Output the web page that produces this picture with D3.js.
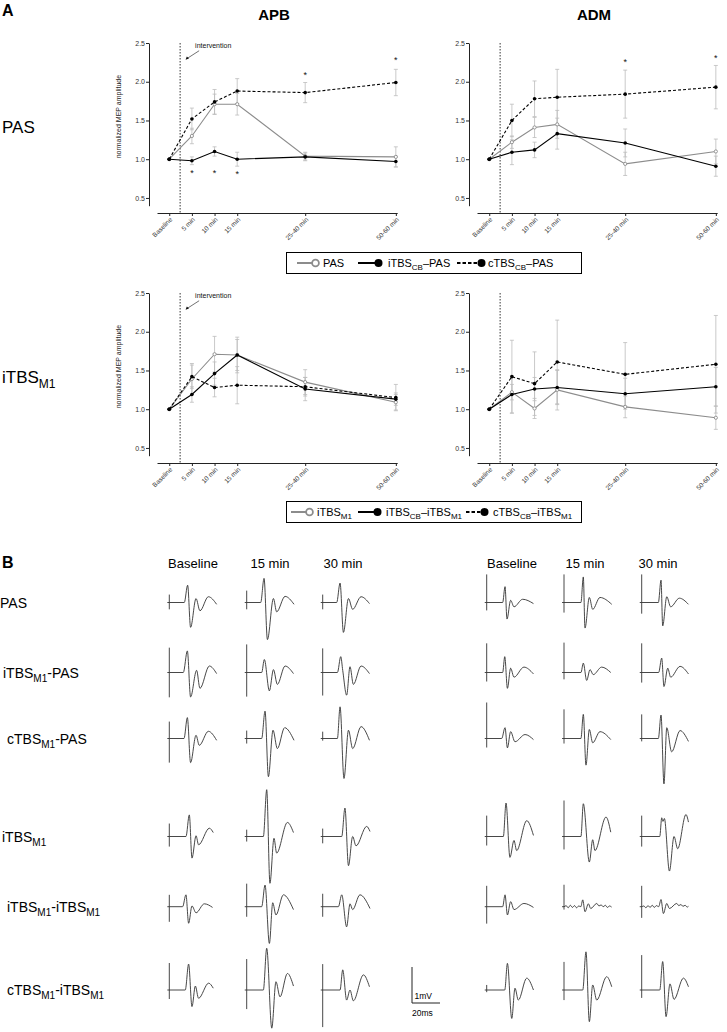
<!DOCTYPE html>
<html>
<head>
<meta charset="utf-8">
<script src="https://cdn.jsdelivr.net/npm/d3@7"></script>
<style>
  body { margin: 0; background: #fff; }
  svg { display: block; font-family: "Liberation Sans", Arial, sans-serif; }
</style>
</head>
<body>
<svg id="fig" width="727" height="1032"></svg>
<script>
// ---- Panel A data ----
var times = [0, 5, 10, 15, 30, 50];
var timeLabels = ["Baseline", "5 min", "10 min", "15 min", "25-40 min", "50-60 min"];
var yTicks = [0.5, 1.0, 1.5, 2.0, 2.5];

// APB, PAS row
var apbPasPas = [1.00, 1.30, 1.71, 1.71, 1.04, 1.03], apbPasPasErr = [0, 0.10, 0.13, 0.14, 0.05, 0.13];
var apbPasItbs = [1.00, 0.98, 1.10, 1.00, 1.03, 0.97], apbPasItbsErr = [0, 0.05, 0.06, 0.09, 0.05, 0.07];
var apbPasCtbs = [1.00, 1.52, 1.74, 1.88, 1.86, 1.99], apbPasCtbsErr = [0, 0.14, 0.16, 0.16, 0.13, 0.17];
var apbPasStars = [[30, 2.10], [50, 2.29], [5, 0.83], [10, 0.83], [15, 0.82]];

// ADM, PAS row
var admPasPas = [1.00, 1.22, 1.41, 1.45, 0.94, 1.10], admPasPasErr = [0, 0.08, 0.13, 0.18, 0.15, 0.16];
var admPasItbs = [1.00, 1.09, 1.12, 1.33, 1.21, 0.91], admPasItbsErr = [0, 0.16, 0.10, 0.20, 0.18, 0.13];
var admPasCtbs = [1.00, 1.50, 1.78, 1.80, 1.84, 1.93], admPasCtbsErr = [0, 0.21, 0.23, 0.36, 0.31, 0.28];
var admPasStars = [[30, 2.27], [50, 2.32]];

// APB, iTBS row
var apbItbsItbs = [1.00, 1.39, 1.71, 1.70, 1.35, 1.09], apbItbsItbsErr = [0, 0.20, 0.23, 0.23, 0.16, 0.10];
var apbItbsCb = [1.00, 1.19, 1.46, 1.70, 1.26, 1.13], apbItbsCbErr = [0, 0.10, 0.15, 0.20, 0.15, 0.08];
var apbItbsCtbs = [1.00, 1.42, 1.28, 1.31, 1.29, 1.15], apbItbsCtbsErr = [0, 0.15, 0.12, 0.24, 0.12, 0.17];

// ADM, iTBS row
var admItbsItbs = [1.00, 1.22, 1.01, 1.25, 1.03, 0.89], admItbsItbsErr = [0, 0.10, 0.13, 0.26, 0.14, 0.15];
var admItbsCb = [1.00, 1.19, 1.26, 1.28, 1.20, 1.29], admItbsCbErr = [0, 0.24, 0.15, 0.22, 0.20, 0.25];
var admItbsCtbs = [1.00, 1.42, 1.33, 1.61, 1.45, 1.58], admItbsCtbsErr = [0, 0.47, 0.41, 0.54, 0.41, 0.63];

var legendPas = ["PAS", "iTBS{CB}–PAS", "cTBS{CB}–PAS"];
var legendItbs = ["iTBS{M1}", "iTBS{CB}–iTBS{M1}", "cTBS{CB}–iTBS{M1}"];

// ---- Panel B data: MEP traces, [ms, mV] after the stimulus; art = artifact [up, down] mV ----
var colLabels = ["Baseline", "15 min", "30 min"];
var rowLabels = ["PAS", "iTBS{M1}-PAS", "cTBS{M1}-PAS", "iTBS{M1}", "iTBS{M1}-iTBS{M1}", "cTBS{M1}-iTBS{M1}"];

var apbPAS = [
  {art: [0.22, 0.19], pts: [[10.7, 0], [13.1, 0.48], [15.2, -0.69], [19.1, 0.11], [21.9, -0.23], [27.9, 0.16], [33.8, -0.05]]},
  {art: [0.33, 0.19], pts: [[10, 0], [12.4, 0.67], [14.8, -1.03], [19.1, 0.11], [21.4, -0.26], [27.4, 0.17], [33.8, -0.05]]},
  {art: [0.22, 0.19], pts: [[10, 0], [12.4, 0.54], [14.8, -0.83], [18.4, 0.11], [21.4, -0.19], [27.4, 0.16], [33.4, -0.03]]}
];
var apbItbsPAS = [
  {art: [0.69, 0.69], pts: [[10, 0], [12.9, 0.6], [15.2, -0.68], [19.5, 0.06], [21.9, -0.44], [28.6, 0.18], [33.8, -0.03]]},
  {art: [0.78, 0.67], pts: [[10.7, 0], [12.6, 0.36], [16.2, -0.51], [19.1, 0.08], [21.9, -0.33], [27.4, 0.18], [33.4, -0.03]]},
  {art: [0.67, 0.64], pts: [[10.5, 0], [12.9, 0.44], [14.3, 0.06], [17.1, -0.63], [19.5, 0.16], [21.9, -0.33], [27.4, 0.18], [33.4, -0.03]]}
];
var apbCtbsPAS = [
  {art: [0.47, 0.67], pts: [[10.5, 0], [12.9, 0.58], [15.2, -0.67], [19.1, 0.09], [21.4, -0.19], [27.9, 0.2], [33.8, -0.05]]},
  {art: [0.22, 0.14], pts: [[10.7, 0], [13.1, 0.76], [15.5, -1.06], [18.8, 0.23], [21.9, -0.28], [27.1, 0.3], [33.8, -0.05]]},
  {art: [0.19, 0.06], pts: [[10.5, 0], [12.4, 0.88], [15.2, -1.11], [18.4, 0.23], [21.4, -0.28], [27.4, 0.33], [33.4, -0.05]]}
];
var apbITBS = [
  {art: [0.36, 0.28], pts: [[11.9, 0], [14.3, 0.6], [16.2, -0.6], [19.1, 0.02], [20.9, -0.23], [28.6, 0.23], [31.4, 0.11]]},
  {art: [0.19, 0.14], pts: [[11.9, 0], [14.3, 1.3], [16.6, -1.3], [19.5, -0.05], [21.4, -0.46], [29.1, 0.39], [33.4, 0.11]]},
  {art: [0.22, 0.19], pts: [[13.6, 0], [15.9, 0.79], [18.4, -0.81], [21.4, 0], [23.8, -0.26], [31.4, 0.28], [33.8, 0.14]]}
];
var apbItbsITBS = [
  {art: [0.33, 0.42], pts: [[9.5, 0], [11.9, 0.33], [13.8, -0.46], [16.2, 0.02], [19.1, -0.17], [25, 0.08], [30.9, -0.02]]},
  {art: [0.64, 0.28], pts: [[10.7, 0], [13.1, 0.6], [16.2, -1.02], [18.6, 0.11], [20.9, -0.23], [26.2, 0.33], [33.4, -0.08]]},
  {art: [0.36, 0.28], pts: [[11.2, 0], [13.6, 0.33], [17.1, -0.56], [19.5, 0.08], [21.4, -0.08], [26.6, 0.33], [33.8, -0.05]]}
];
var apbCtbsITBS = [
  {art: [0.75, 0.25], pts: [[11.4, 0], [13.8, 0.72], [16.2, -0.46], [18.6, 0.11], [20.9, -0.23], [28.1, 0.19], [31.4, 0.05]]},
  {art: [0.86, 0.53], pts: [[11.9, 0], [14.3, 1.16], [17.9, -1.06], [20.9, 0.23], [23.8, -0.19], [29.1, 0.46], [33.4, 0.11]]},
  {art: [0.72, 1.03], pts: [[12.4, 0], [14.3, 0.56], [17.1, -0.28], [19.5, 0], [21.9, -0.3], [29.1, 0.42], [33.4, 0.09]]}
];

var admPAS = [
  {art: [0.78, 0.22], pts: [[11.4, 0], [13.1, 0.44], [14.5, -0.46], [17.1, 0.06], [19.5, -0.12], [25.7, 0.09], [33.4, -0.03]]},
  {art: [0.78, 0.28], pts: [[12.1, 0], [13.8, 0.71], [15, -0.71], [18.1, 0.14], [20.5, -0.19], [25.7, 0.14], [34.1, -0.05]]},
  {art: [0.78, 0.31], pts: [[11.9, 0], [13.8, 0.62], [15, -0.65], [17.9, 0.16], [20.7, -0.12], [26.9, 0.12], [33.4, -0.05]]}
];
var admItbsPAS = [
  {art: [0.81, 0.25], pts: [[11.4, 0], [12.9, 0.44], [14.8, -0.44], [17.1, 0.12], [19.5, -0.13], [26.6, 0.15], [33.4, -0.04]]},
  {art: [0.83, 0.19], pts: [[12.1, 0], [13.8, 0.26], [16.2, -0.22], [18.6, 0.08], [20.9, -0.06], [26.9, 0.15], [33.4, 0]]},
  {art: [0.81, 0.28], pts: [[12.1, 0], [14.3, 0.4], [15.9, -0.39], [18.6, 0.12], [20.7, -0.13], [27.4, 0.17], [33.4, -0.04]]}
];
var admCtbsPAS = [
  {art: [1.0, 0.25], pts: [[10.7, 0], [13.1, 0.3], [14.8, -0.26], [17.1, 0.19], [20.2, -0.09], [27.4, 0.11], [33.4, -0.03]]},
  {art: [0.81, 0.14], pts: [[12.1, 0], [13.8, 0.67], [15.7, -0.74], [18.1, 0.25], [20.5, -0.12], [25.7, 0.19], [33.4, -0.03]]},
  {art: [0.67, 0.08], pts: [[11.9, 0], [13.8, 0.65], [15.9, -1.26], [17.9, 0.3], [21.4, -0.37], [27.4, 0.22], [33.4, -0.08]]}
];
var admITBS = [
  {art: [0.58, 0.25], pts: [[11.9, 0], [13.8, 0.93], [16.6, -0.58], [19.5, -0.11], [21.4, -0.39], [28.6, 0.44], [33.4, 0.03]]},
  {art: [1.0, 0.36], pts: [[12.1, 0], [13.8, 0.91], [18.1, -0.71], [20.5, -0.09], [22.1, -0.39], [30, 0.54], [33.4, 0.12]]},
  {art: [0.58, 0.28], pts: [[12.9, 0], [14.3, 0.52], [15.2, 0.42], [16.2, 0.5], [19.8, -0.96], [23.1, 0], [25.7, -0.34], [31.6, 0.61], [33.4, 0.4]]}
];
var admItbsITBS = [
  {art: [0.58, 0.47], pts: [[11.4, 0], [13.1, 0.33], [14.8, -0.23], [17.1, 0.14], [19.5, -0.08], [26.6, 0.09], [33.4, -0.02]]},
  {art: [0.61, 0.08], pts: [[1.5, 0.03], [3, -0.03], [4.5, 0.04], [6, -0.02], [7.5, 0.03], [9, -0.03], [10.5, 0.02], [12, 0], [13.4, 0.19], [15, -0.14], [17.4, 0.08], [19.1, -0.05], [23.4, 0.09], [25, 0.02], [26.5, 0.05], [28, 0], [29.5, 0.04], [31, -0.02], [32.5, 0.02], [34, -0.01]]},
  {art: [0.58, 0.31], pts: [[1.5, 0.02], [3, -0.03], [4.5, 0.03], [6, -0.02], [7.5, 0.04], [9, -0.02], [10.5, 0.03], [12.1, 0], [13.8, 0.2], [15.5, -0.19], [17.9, 0.09], [19.8, -0.05], [25, 0.09], [26.5, 0.03], [28, 0.06], [29.5, 0.01], [31, 0.04], [32.5, -0.01], [33.4, 0.01]]}
];
var admCtbsITBS = [
  {art: [0.14, 0.06], pts: [[12.9, 0], [14.8, 0.74], [17.9, -0.79], [20.2, 0.05], [22.6, -0.28], [28.6, 0.33], [33.4, 0]]},
  {art: [0.78, 0.28], pts: [[13.4, 0], [15.7, 1.06], [18.1, -0.88], [20.5, 0.14], [23.4, -0.28], [30.5, 0.37], [34.1, 0.09]]},
  {art: [0.97, 0.22], pts: [[12.9, 0], [15, 0.79], [17.4, -0.74], [20.2, 0.17], [23.1, -0.26], [29.8, 0.33], [33.4, 0.09]]}
];

var svg = d3.select("#fig");

// text with {subscript} parts
function rich(sel, str, size, subSize) {
  var shift = 0;
  str.split(/(\{[^}]*\})/).filter(function(p) { return p.length; }).forEach(function(p) {
    if (p[0] === "{") {
      sel.append("tspan").text(p.slice(1, -1)).attr("font-size", subSize).attr("dy", size * 0.3 - shift);
      shift = size * 0.3;
    } else {
      sel.append("tspan").text(p).attr("dy", -shift);
      shift = 0;
    }
  });
}

var styles = [
  {color: "#8c8c8c", dash: null, open: true},
  {color: "#000", dash: null, open: false},
  {color: "#000", dash: "3,2", open: false}
];

function drawPanel(dx, dy, series, stars, opts) {
  var g = svg.append("g");
  var x = d3.scaleLinear().domain([-2.7, 50.3]).range([157 + dx, 397.2 + dx]),
      y = d3.scaleLinear().domain([0.4, 2.5]).range([205.7 + dy, 43 + dy]);

  var ya = g.append("g")
    .attr("transform", "translate(" + (149 + dx) + ",0)")
    .call(d3.axisLeft(y).tickValues(yTicks).tickFormat(d3.format(".1f")).tickSize(3).tickSizeOuter(0));
  ya.selectAll("text").attr("font-size", 7).attr("fill", "#333").attr("x", -4);

  var xa = g.append("g")
    .attr("transform", "translate(0," + (213 + dy) + ")")
    .call(d3.axisBottom(x).tickValues(times).tickFormat(function(d, i) { return timeLabels[i]; }).tickSize(3).tickSizeOuter(0));
  xa.selectAll("text")
    .attr("font-size", 6.5).attr("fill", "#333")
    .attr("x", 0).attr("y", 0).attr("dy", 0)
    .attr("text-anchor", "end")
    .attr("transform", "translate(3,7) rotate(-45)");
  g.selectAll(".domain, .tick line").attr("stroke", "#222").attr("stroke-width", 1);

  if (opts.yLabel) {
    g.append("text")
      .attr("transform", "translate(" + (121 + dx) + "," + y(1.55) + ") rotate(-90)")
      .attr("text-anchor", "middle").attr("font-size", 7).attr("fill", "#222")
      .text("normalized MEP amplitude");
  }

  // intervention marker
  g.append("line")
    .attr("x1", x(2.4)).attr("x2", x(2.4)).attr("y1", y(2.5)).attr("y2", 213 + dy)
    .attr("stroke", "#000").attr("stroke-width", 0.8).attr("stroke-dasharray", "1.5,1.5");
  if (opts.intervention) {
    g.append("text").attr("x", x(2.4) + 15).attr("y", y(2.43))
      .attr("font-size", 7).attr("fill", "#111").text("intervention");
    g.append("line")
      .attr("x1", x(2.4) + 19).attr("y1", y(2.4)).attr("x2", x(2.4) + 7).attr("y2", y(2.3))
      .attr("stroke", "#111").attr("stroke-width", 0.6);
    g.append("path")
      .attr("d", "M" + (x(2.4) + 5.5) + "," + (y(2.3) + 1.2) + "l1.2,-3.2l2.2,1.9z")
      .attr("fill", "#111");
  }

  // error bars
  series.forEach(function(s) {
    var eb = g.append("g").attr("stroke", "#bdbdbd").attr("stroke-width", 0.8);
    s.values.forEach(function(v, i) {
      var e = s.err[i];
      if (!e) return;
      var cx = x(times[i]);
      eb.append("line").attr("x1", cx).attr("x2", cx).attr("y1", y(v - e)).attr("y2", y(v + e));
      eb.append("line").attr("x1", cx - 2).attr("x2", cx + 2).attr("y1", y(v - e)).attr("y2", y(v - e));
      eb.append("line").attr("x1", cx - 2).attr("x2", cx + 2).attr("y1", y(v + e)).attr("y2", y(v + e));
    });
  });

  var line = d3.line().x(function(d, i) { return x(times[i]); }).y(function(d) { return y(d); });
  series.forEach(function(s, k) {
    var st = styles[k];
    g.append("path").datum(s.values)
      .attr("d", line).attr("fill", "none")
      .attr("stroke", st.color).attr("stroke-width", 1.1)
      .attr("stroke-dasharray", st.dash);
    g.selectAll(null).data(s.values).enter().append("circle")
      .attr("cx", function(d, i) { return x(times[i]); })
      .attr("cy", function(d) { return y(d); })
      .attr("r", st.open ? 1.6 : 1.8)
      .attr("fill", st.open ? "#fff" : st.color)
      .attr("stroke", st.color).attr("stroke-width", st.open ? 0.9 : 0);
  });

  g.selectAll(null).data(stars).enter().append("text")
    .attr("x", function(d) { return x(d[0]); })
    .attr("y", function(d) { return y(d[1]) + 4; })
    .attr("text-anchor", "middle").attr("font-size", 9).attr("fill", "#111")
    .text("*");
}

function drawLegend(top, labels, items) {
  var g = svg.append("g");
  g.append("rect").attr("x", 286.5).attr("y", top + 0.5).attr("width", 295).attr("height", 21)
    .attr("fill", "#fff").attr("stroke", "#000").attr("stroke-width", 1);
  var cy = top + 11;
  labels.forEach(function(lab, k) {
    var st = styles[k], it = items[k];
    g.append("line").attr("x1", it[0]).attr("x2", it[1]).attr("y1", cy).attr("y2", cy)
      .attr("stroke", st.color).attr("stroke-width", 2).attr("stroke-dasharray", st.dash ? "3.5,2" : null);
    g.append("circle").attr("cx", it[1] + 3.5).attr("cy", cy).attr("r", st.open ? 3.4 : 4)
      .attr("fill", st.open ? "#fff" : st.color)
      .attr("stroke", st.color).attr("stroke-width", st.open ? 1.8 : 0);
    var t = g.append("text").attr("x", it[2]).attr("y", cy + 4).attr("font-size", 11).attr("fill", "#000");
    rich(t, lab, 11, 8);
  });
}

// ---- Panel A ----
svg.append("text").attr("x", 2).attr("y", 16).attr("font-size", 16).attr("font-weight", "bold").text("A");
svg.append("text").attr("x", 274).attr("y", 20).attr("font-size", 15).attr("font-weight", "bold")
  .attr("text-anchor", "middle").text("APB");
svg.append("text").attr("x", 594).attr("y", 20).attr("font-size", 15).attr("font-weight", "bold")
  .attr("text-anchor", "middle").text("ADM");
svg.append("text").attr("x", 2).attr("y", 133).attr("font-size", 17).text("PAS");
rich(svg.append("text").attr("x", 2).attr("y", 383).attr("font-size", 17), "iTBS{M1}", 17, 12);

drawPanel(0, 0, [
  {values: apbPasPas, err: apbPasPasErr},
  {values: apbPasItbs, err: apbPasItbsErr},
  {values: apbPasCtbs, err: apbPasCtbsErr}
], apbPasStars, {yLabel: true, intervention: true});
drawPanel(320, 0, [
  {values: admPasPas, err: admPasPasErr},
  {values: admPasItbs, err: admPasItbsErr},
  {values: admPasCtbs, err: admPasCtbsErr}
], admPasStars, {yLabel: false, intervention: false});
drawPanel(0, 250, [
  {values: apbItbsItbs, err: apbItbsItbsErr},
  {values: apbItbsCb, err: apbItbsCbErr},
  {values: apbItbsCtbs, err: apbItbsCtbsErr}
], [], {yLabel: true, intervention: true});
drawPanel(320, 250, [
  {values: admItbsItbs, err: admItbsItbsErr},
  {values: admItbsCb, err: admItbsCbErr},
  {values: admItbsCtbs, err: admItbsCtbsErr}
], [], {yLabel: false, intervention: false});

drawLegend(252, legendPas, [[297, 312, 323], [358, 375, 388], [457, 478, 488]]);
drawLegend(501, legendItbs, [[291, 306, 317], [358, 374, 386], [466, 481, 493]]);

// ---- Panel B ----
var tx = d3.scaleLinear().domain([0, 20]).range([0, 28]),
    ty = d3.scaleLinear().domain([0, 1]).range([0, -36]);
var colX = [[169.3, 246.7, 322.7], [486.7, 564, 641.7]];
var headX = [[193, 270, 343], [512, 585, 658]];
var rowY = [602.5, 672.5, 738.5, 836.5, 906.7, 990];
var labelX = [0, 3, 7, 2, 7, 7];
var muscles = [
  [apbPAS, apbItbsPAS, apbCtbsPAS, apbITBS, apbItbsITBS, apbCtbsITBS],
  [admPAS, admItbsPAS, admCtbsPAS, admITBS, admItbsITBS, admCtbsITBS]
];

svg.append("text").attr("x", 2).attr("y", 568).attr("font-size", 16).attr("font-weight", "bold").text("B");
headX.forEach(function(hx) {
  colLabels.forEach(function(c, j) {
    svg.append("text").attr("x", hx[j]).attr("y", 568).attr("text-anchor", "middle")
      .attr("font-size", 13).text(c);
  });
});
rowLabels.forEach(function(lab, r) {
  rich(svg.append("text").attr("x", labelX[r]).attr("y", rowY[r] + 5).attr("font-size", 14), lab, 14, 10);
});

var traceLine = d3.line().x(function(d) { return tx(d[0]); }).y(function(d) { return ty(d[1]); })
  .curve(d3.curveMonotoneX);
muscles.forEach(function(rows, m) {
  rows.forEach(function(traces, r) {
    traces.forEach(function(tr, c) {
      var g = svg.append("g").attr("transform", "translate(" + colX[m][c] + "," + rowY[r] + ")");
      g.append("line").attr("x1", 0).attr("x2", 0).attr("y1", ty(tr.art[0])).attr("y2", ty(-tr.art[1]))
        .attr("stroke", "#333").attr("stroke-width", 0.9);
      g.append("path").datum([[-1.4, 0], [0, 0]].concat(tr.pts))
        .attr("d", traceLine).attr("fill", "none")
        .attr("stroke", "#333").attr("stroke-width", 0.9);
    });
  });
});

// scale bar
var sb = svg.append("g").attr("transform", "translate(412,1003)");
sb.append("path").attr("d", "M0," + ty(1) + "V0H" + tx(20)).attr("fill", "none")
  .attr("stroke", "#222").attr("stroke-width", 1);
sb.append("text").attr("x", 2.5).attr("y", -4).attr("font-size", 8.5).text("1mV");
sb.append("text").attr("x", 0).attr("y", 13).attr("font-size", 8.5).text("20ms");
</script>
</body>
</html>
